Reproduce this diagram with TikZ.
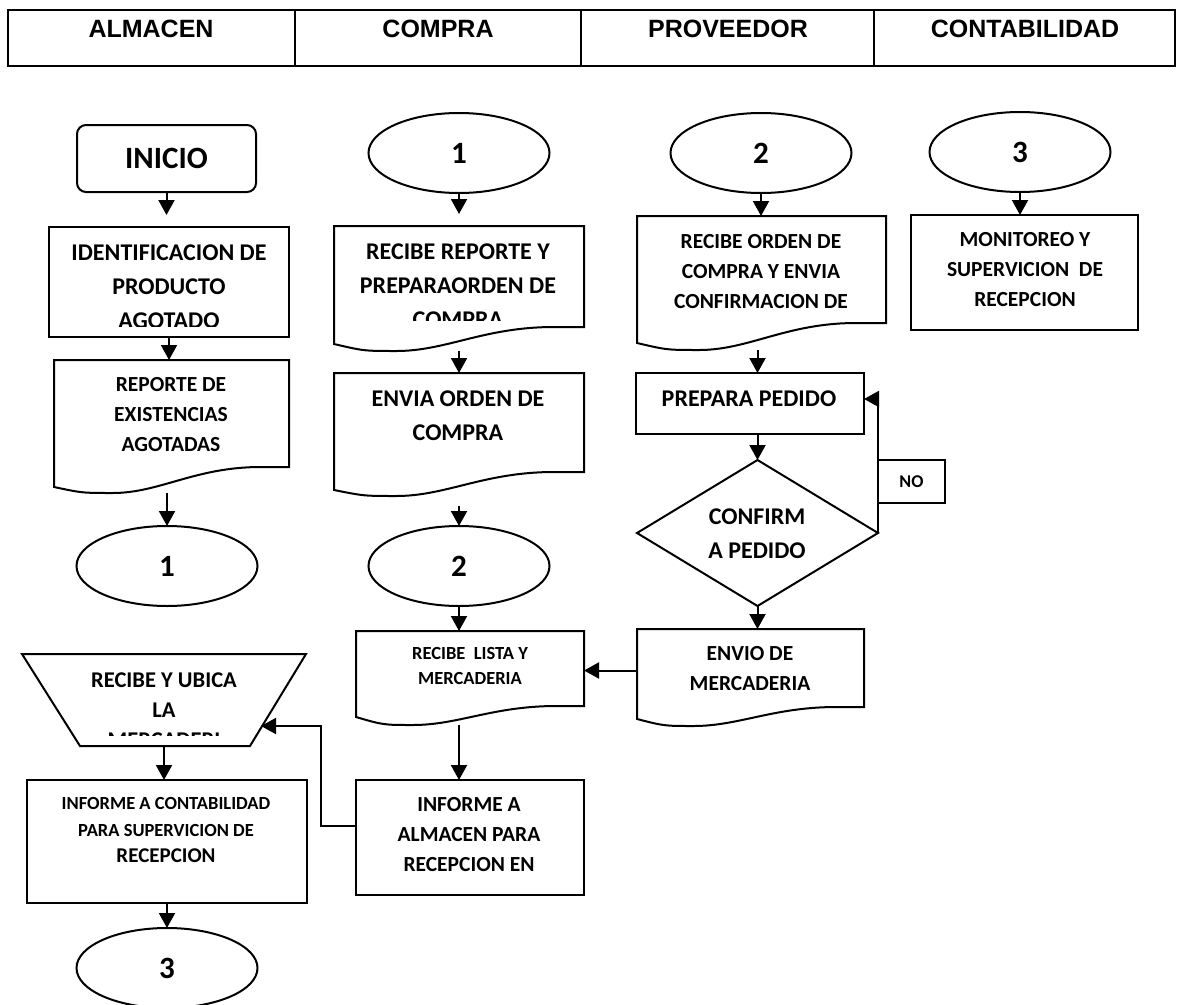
\documentclass[tikz,border=0pt]{standalone}
\usepackage{fontspec}
\setmainfont{Carlito}
\newfontfamily\hdrfont{Liberation Sans}
\usetikzlibrary{shapes.geometric,arrows.meta,calc}
\tikzset{
  shp/.style={draw, line width=2pt, inner sep=0pt, outer sep=0pt},
  arr/.style={line width=2pt, -{Triangle[length=15pt,width=16pt]}},
  txt/.style={align=center, inner sep=0pt, outer sep=0pt},
  tA/.style={txt, font=\bfseries\fontsize{24}{34}\selectfont},
  tB/.style={txt, font=\bfseries\fontsize{21.5}{30}\selectfont},
  tC/.style={txt, font=\bfseries\fontsize{18.5}{25}\selectfont},
  tD/.style={txt, font=\bfseries\fontsize{22.5}{30}\selectfont},
  tNum/.style={font=\bfseries\fontsize{31}{36}\selectfont},
  hdr/.style={txt, font=\hdrfont\bfseries\fontsize{25}{30}\selectfont},
  oval/.style={shp, ellipse, minimum width=181pt, minimum height=80pt, tNum},
  box/.style={shp, rectangle},
}
\newcommand\docshape[7]{%
  \pgfmathsetmacro\mydw{#3-#2}%
  \pgfmathsetmacro\mydh{#7-#4}%
  \pgfmathsetmacro\mycx{(#2+#3)/2}%
  \pgfmathsetmacro\mycy{(#4+#7)/2}%
  \node[inner sep=0pt, outer sep=0pt, minimum width=\mydw pt, minimum height=\mydh pt] (#1) at (\mycx,\mycy) {};
  \draw[line width=2pt] (#2,#4) -- (#3,#4) -- (#3,#5) -- ({#3-0.12*(#3-#2)},#5)
    .. controls ({#3-0.4*(#3-#2)},#5) and ({#2+0.45*(#3-#2)},#7) .. ({#2+0.25*(#3-#2)},#7)
    .. controls ({#2+0.12*(#3-#2)},#7) .. (#2,#6) -- cycle;
}
\begin{document}
\begin{tikzpicture}[x=1pt,y=-1pt]
\useasboundingbox (0,0) rectangle (1178,1004);
% header
\draw[line width=2.5pt] (8,10) rectangle (1175,66);
\draw[line width=1.4pt] (295,10) -- (295,66) (581,10) -- (581,66) (874,10) -- (874,66);
\node[hdr] (h1) at (151,29) {ALMACEN};
\node[hdr] (h2) at (438,29) {COMPRA};
\node[hdr] (h3) at (728,29) {PROVEEDOR};
\node[hdr] (h4) at (1025,29) {CONTABILIDAD};

% lane 1
\node[box, rounded corners=9pt, minimum width=179pt, minimum height=67pt, tNum] (inicio) at (166.5,158.5) {INICIO};
\node[box, minimum width=240pt, minimum height=110pt] (ident) at (169,282) {};
\begin{scope}
\clip (49,227) rectangle (289,326);
\node[tA] (identT) at (169,286.7) {IDENTIFICACION DE\\PRODUCTO\\AGOTADO};
\end{scope}
\docshape{rep}{54}{289}{360}{467}{487}{493}
\node[tB] (repT) at (171,414.7) {REPORTE DE\\EXISTENCIAS\\AGOTADAS};
\node[oval] (e1a) at (167,566) {1};
\node[inner sep=0pt, outer sep=0pt, minimum width=284pt, minimum height=92pt] (trap) at (164,700) {};
\draw[line width=2pt] (22,654) -- (306,654) -- (250,746) -- (80,746) -- cycle;
\coordinate (trapR) at (261,726);
\begin{scope}
\clip (22,654) rectangle (306,735);
\node[tD] (trapT) at (164,710) {RECIBE Y UBICA\\LA\\MERCADERI};
\end{scope}
\node[box, minimum width=280pt, minimum height=123pt] (inf1) at (167,841.5) {};
\node[tC, font=\bfseries\fontsize{18.5}{26.5}\selectfont] (inf1T) at (166,830) {INFORME A CONTABILIDAD\\PARA SUPERVICION DE\\{\fontsize{21}{28}\selectfont RECEPCION}};
\node[oval] (e3a) at (167,968) {3};

% lane 2
\node[oval] (e1b) at (459,153) {1};
\docshape{recrep}{334}{584}{226}{327}{344}{351}
\begin{scope}
\clip (334,226) rectangle (584,320);
\node[tA] (recrepT) at (458,286) {RECIBE REPORTE Y\\PREPARAORDEN DE\\COMPRA};
\end{scope}
\docshape{envia}{334}{584}{373}{472}{490}{496}
\node[tA] (enviaT) at (458,416) {ENVIA ORDEN DE\\COMPRA};
\node[oval] (e2b) at (459,566) {2};
\docshape{reclista}{356}{584}{631}{706}{717}{725}
\node[tC] (reclistaT) at (470,665.5) {RECIBE\ \ LISTA Y\\MERCADERIA};
\node[box, minimum width=228pt, minimum height=115pt] (infalm) at (470,837.5) {};
\node[tB] (infalmT) at (469,835) {INFORME A\\ALMACEN PARA\\RECEPCION EN};

% lane 3
\node[oval] (e2c) at (761,153) {2};
\docshape{recorden}{637}{886}{216}{323}{343}{350}
\node[tB] (recordenT) at (761,272) {RECIBE ORDEN DE\\COMPRA Y ENVIA\\CONFIRMACION DE};
\node[box, minimum width=228pt, minimum height=61pt] (prep) at (750,403.5) {};
\node[tA] (prepT) at (749,399) {PREPARA PEDIDO};
\node[shp, diamond, minimum width=241pt, minimum height=146pt] (conf) at (757.5,533) {};
\node[tA] (confT) at (757,534) {CONFIRM\\A PEDIDO};
\node[box, minimum width=67pt, minimum height=43pt, font=\bfseries\fontsize{18}{22}\selectfont] (nobox) at (911.5,481.5) {NO};
\docshape{envio}{637}{864}{629}{707}{719}{726}
\node[tB] (envioT) at (750,669) {ENVIO DE\\MERCADERIA};

% lane 4
\node[oval] (e3d) at (1020,152) {3};
\node[box, minimum width=227pt, minimum height=115pt] (mon) at (1024.5,272.5) {};
\node[tB] (monT) at (1025,270) {MONITOREO Y\\SUPERVICION\ \ DE\\RECEPCION};

% connectors
\draw[arr, shorten >=12pt] (inicio.south) -- (inicio.south |- ident.north);
\draw[arr] (ident.south) -- (ident.south |- rep.north);
\draw[arr] (e1a.north |- rep.south) -- (e1a.north);
\draw[arr] (trap.south) -- (trap.south |- inf1.north);
\draw[arr] (inf1.south) -- (inf1.south |- e3a.north);
\draw[arr, shorten >=12pt] (e1b.south) -- (e1b.south |- recrep.north);
\draw[arr] (e1b.south |- recrep.south) -- (e1b.south |- envia.north);
\draw[arr, shorten <=10pt] (e1b.south |- envia.south) -- (e2b.north);
\draw[arr] (e2b.south) -- (e2b.south |- reclista.north);
\draw[arr] (e2b.south |- reclista.south) -- (e2b.south |- infalm.north);
\draw[arr] ($(infalm.west)+(0,-11.5)$) -- ++(-35,0) |- (trapR);
\draw[arr] (e2c.south) -- (e2c.south |- recorden.north);
\draw[arr] (conf.north |- recorden.south) -- (conf.north |- prep.north);
\draw[arr] (conf.north |- prep.south) -- (conf.north);
\draw[arr] (conf.east) |- ($(prep.east)+(0,-4.5)$);
\draw[arr] (conf.south) -- (conf.south |- envio.north);
\draw[arr] ($(envio.west)+(0,-7)$) -- ($(envio.west -| reclista.east)+(0,-7)$);
\draw[arr] (e3d.south) -- (e3d.south |- mon.north);
\end{tikzpicture}
\end{document}
